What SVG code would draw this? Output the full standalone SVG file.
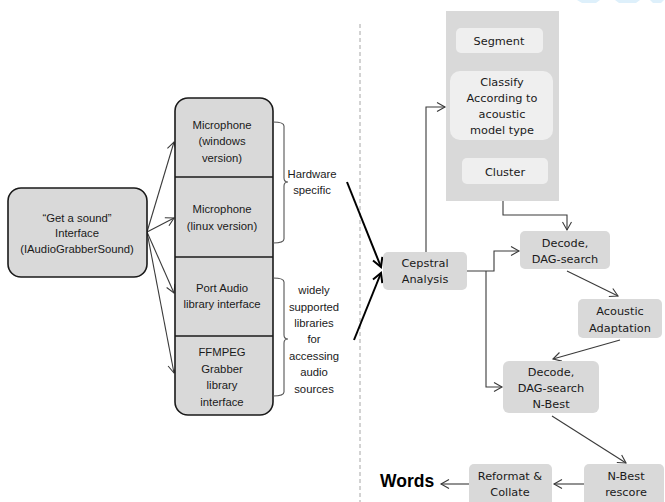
<svg xmlns="http://www.w3.org/2000/svg" width="665" height="502" viewBox="0 0 665 502">
<style>
.lt{font-family:"Liberation Sans",Arial,sans-serif;font-size:11.3px;fill:#1a1a1a;text-anchor:middle}
.rt{font-family:"DejaVu Sans",Verdana,sans-serif;font-size:11.3px;fill:#1a1a1a;text-anchor:middle}
.lbox{fill:#d9d9d9;stroke:#1a1a1a;stroke-width:1.6}
.rbox{fill:#d9d9d9}
.ibox{fill:#efefef}
.con{fill:none;stroke:#3a3a3a;stroke-width:1.1}
.thick{fill:none;stroke:#000;stroke-width:2}
.brace{fill:none;stroke:#555;stroke-width:1.1}
</style>
<defs>
<marker id="a" markerUnits="userSpaceOnUse" markerWidth="12" markerHeight="12" refX="8" refY="4.5" orient="auto" overflow="visible">
<path d="M0,0 L8,4.5 L0,9" fill="none" stroke="#3a3a3a" stroke-width="1.1"/>
</marker>
<marker id="t" markerUnits="userSpaceOnUse" markerWidth="14" markerHeight="14" refX="9" refY="5" orient="auto" overflow="visible">
<path d="M0,0 L9,5 L0,10" fill="none" stroke="#000" stroke-width="2"/>
</marker>
</defs>
<rect width="665" height="502" fill="#fff"/>
<g id="decor" fill="#def0fb">
<path d="M577,0 L600,0 L596,3 L582,3 Z"/>
<path d="M615,0 L640,0 L636,3 L619,3 Z"/>
<path d="M650,0 L664,0 L661,3 L653,3 Z"/>
</g>
<line x1="360" y1="24" x2="360" y2="502" stroke="#a6a6a6" stroke-width="1" stroke-dasharray="4,3"/>

<g id="connectors">
<line class="con" x1="147" y1="232" x2="174" y2="142" marker-end="url(#a)"/>
<line class="con" x1="147" y1="232" x2="174" y2="218" marker-end="url(#a)"/>
<line class="con" x1="147" y1="232" x2="174" y2="293" marker-end="url(#a)"/>
<line class="con" x1="147" y1="232" x2="174" y2="373" marker-end="url(#a)"/>
<line class="thick" x1="347" y1="182" x2="381" y2="267" marker-end="url(#t)"/>
<line class="thick" x1="354" y1="340" x2="381" y2="273" marker-end="url(#t)"/>
<polyline class="con" points="426,252 426,107 445,107" marker-end="url(#a)"/>
<polyline class="con" points="503,201 503,215 567,215 567,230" marker-end="url(#a)"/>
<polyline class="con" points="467,271 494,271 494,251 519,251" marker-end="url(#a)"/>
<polyline class="con" points="486,271 486,387 502,387" marker-end="url(#a)"/>
<line class="con" x1="567" y1="271" x2="618" y2="296" marker-end="url(#a)"/>
<line class="con" x1="620" y1="340" x2="553" y2="359" marker-end="url(#a)"/>
<line class="con" x1="552" y1="416" x2="626" y2="463" marker-end="url(#a)"/>
<line class="con" x1="584" y1="484" x2="554" y2="484" marker-end="url(#a)"/>
<line class="con" x1="469" y1="484" x2="441" y2="484" marker-end="url(#a)"/>
</g>

<g id="get-sound">
<rect class="lbox" x="8" y="188" width="139" height="89" rx="13"/>
<text class="lt" x="77" y="222">“Get a sound”</text>
<text class="lt" x="77" y="237">Interface</text>
<text class="lt" x="77" y="253">(IAudioGrabberSound)</text>
</g>

<g id="sources">
<rect class="lbox" x="175" y="98" width="98" height="317" rx="13"/>
<line x1="175" y1="177" x2="273" y2="177" stroke="#1a1a1a" stroke-width="1.6"/>
<line x1="175" y1="257" x2="273" y2="257" stroke="#1a1a1a" stroke-width="1.6"/>
<line x1="175" y1="336" x2="273" y2="336" stroke="#1a1a1a" stroke-width="1.6"/>
</g>
<g id="mic-windows">
<text class="lt" x="222" y="129">Microphone</text>
<text class="lt" x="222" y="145">(windows</text>
<text class="lt" x="222" y="162">version)</text>
</g>
<g id="mic-linux">
<text class="lt" x="222" y="213">Microphone</text>
<text class="lt" x="222" y="230">(linux version)</text>
</g>
<g id="portaudio">
<text class="lt" x="222" y="292">Port Audio</text>
<text class="lt" x="222" y="308">library interface</text>
</g>
<g id="ffmpeg">
<text class="lt" x="222" y="356">FFMPEG</text>
<text class="lt" x="222" y="373">Grabber</text>
<text class="lt" x="222" y="389">library</text>
<text class="lt" x="222" y="406">interface</text>
</g>

<g id="brace-hw">
<path class="brace" d="M273,122 Q284,122 284,126 L284,178 Q284,182 288,182 Q284,182 284,186 L284,239 Q284,243 273,243"/>
<text class="lt" x="312" y="178">Hardware</text>
<text class="lt" x="312" y="194">specific</text>
</g>
<g id="brace-lib">
<path class="brace" d="M273,278 Q284,278 284,282 L284,335 Q284,339 288,339 Q284,339 284,343 L284,392 Q284,396 273,396"/>
<text class="lt" x="314" y="294">widely</text>
<text class="lt" x="314" y="311">supported</text>
<text class="lt" x="314" y="327">libraries</text>
<text class="lt" x="314" y="343">for</text>
<text class="lt" x="314" y="360">accessing</text>
<text class="lt" x="314" y="376">audio</text>
<text class="lt" x="314" y="393">sources</text>
</g>

<g id="cepstral">
<rect class="rbox" x="383" y="252" width="84" height="38" rx="5"/>
<text class="rt" x="425" y="267">Cepstral</text>
<text class="rt" x="425" y="283">Analysis</text>
</g>

<g id="seg-panel">
<rect class="rbox" x="446" y="11" width="113" height="190"/>
</g>
<g id="segment">
<rect class="ibox" x="456" y="28" width="87" height="25" rx="5"/>
<text class="rt" x="499" y="45">Segment</text>
</g>
<g id="classify">
<rect class="ibox" x="450" y="71" width="103" height="69" rx="10"/>
<text class="rt" x="502" y="86">Classify</text>
<text class="rt" x="502" y="102">According to</text>
<text class="rt" x="502" y="118">acoustic</text>
<text class="rt" x="502" y="134">model type</text>
</g>
<g id="cluster">
<rect class="ibox" x="462" y="158" width="86" height="26" rx="5"/>
<text class="rt" x="505" y="176">Cluster</text>
</g>

<g id="decode1">
<rect class="rbox" x="520" y="231" width="90" height="38" rx="5"/>
<text class="rt" x="565" y="247">Decode,</text>
<text class="rt" x="565" y="263">DAG-search</text>
</g>
<g id="acoustic">
<rect class="rbox" x="578" y="299" width="84" height="39" rx="5"/>
<text class="rt" x="620" y="315">Acoustic</text>
<text class="rt" x="620" y="332">Adaptation</text>
</g>
<g id="decode2">
<rect class="rbox" x="503" y="361" width="96" height="52" rx="6"/>
<text class="rt" x="551" y="376">Decode,</text>
<text class="rt" x="551" y="392">DAG-search</text>
<text class="rt" x="551" y="408">N-Best</text>
</g>
<g id="rescore">
<rect class="rbox" x="584" y="464" width="80" height="42" rx="5"/>
<text class="rt" x="626" y="480">N-Best</text>
<text class="rt" x="626" y="496">rescore</text>
</g>
<g id="reformat">
<rect class="rbox" x="469" y="464" width="83" height="42" rx="5"/>
<text class="rt" x="510" y="480">Reformat &amp;</text>
<text class="rt" x="510" y="496">Collate</text>
</g>
<g id="words">
<text x="380" y="487" font-family="'Liberation Sans',Arial,sans-serif" font-size="17.5" font-weight="bold" fill="#000">Words</text>
</g>
</svg>
